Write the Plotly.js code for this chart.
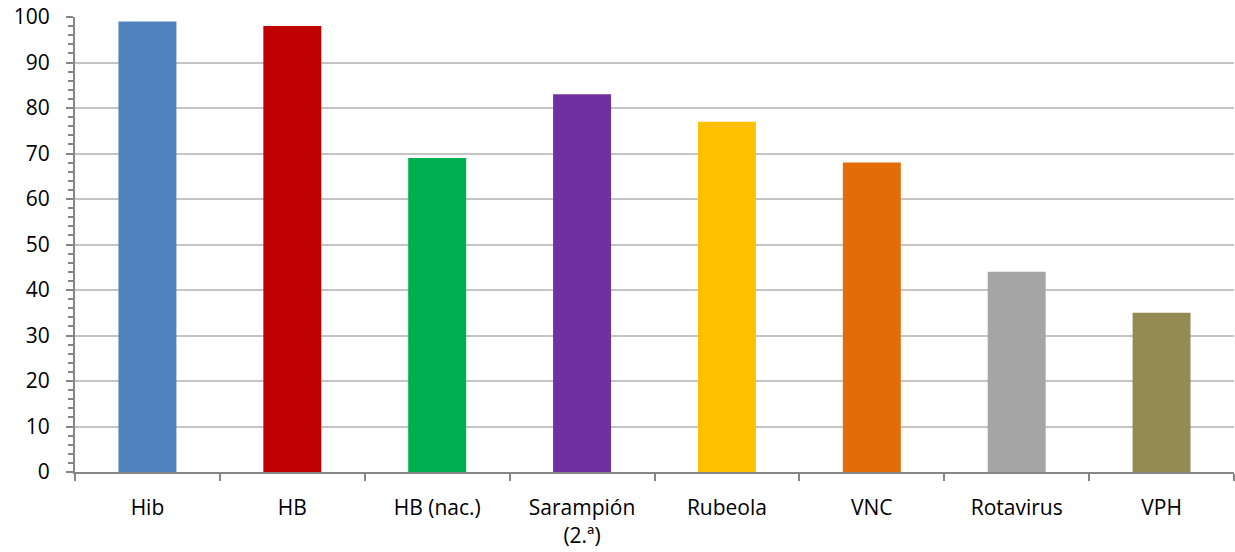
<!DOCTYPE html>
<html>
<head>
<meta charset="utf-8">
<script src="https://cdn.plot.ly/plotly-3.0.1.min.js"></script>
<style>html,body{margin:0;padding:0;background:#fff;}#chart{width:1235px;height:552px;}</style>
</head>
<body>
<div id="chart"></div>
<script>
const categories = ["Hib", "HB", "HB (nac.)", "Sarampión<br>(2.ª)", "Rubeola", "VNC", "Rotavirus", "VPH"];
const values = [99, 98, 69, 83, 77, 68, 44, 35];
const colors = ["#4f81bd", "#c00000", "#00b050", "#7030a0", "#ffc000", "#e36c09", "#a5a5a5", "#948a54"];
const yTicks = [0, 10, 20, 30, 40, 50, 60, 70, 80, 90, 100];

Plotly.newPlot("chart", [{
  type: "bar",
  x: categories,
  y: values,
  marker: {color: colors},
  hoverinfo: "x+y"
}], {
  width: 1235, height: 552,
  margin: {l: 75, r: 1, t: 17, b: 80},
  paper_bgcolor: "#fff", plot_bgcolor: "#fff",
  bargap: 0.6,
  showlegend: false,
  font: {family: "Open Sans, Liberation Sans, sans-serif", size: 21, color: "#000"},
  xaxis: {
    type: "category",
    showline: true, linecolor: "#868686", linewidth: 2,
    ticks: "outside", tickson: "boundaries", ticklen: 7, tickcolor: "#868686", tickwidth: 2,
    showgrid: false, zeroline: false,
    ticklabelstandoff: 16,
    tickfont: {size: 21}
  },
  yaxis: {
    range: [0, 100],
    tickvals: yTicks,
    ticktext: yTicks.map(String),
    showline: true, linecolor: "#868686", linewidth: 2,
    ticks: "outside", ticklen: 7, tickcolor: "#868686", tickwidth: 2,
    gridcolor: "#c4c4c4", gridwidth: 2,
    zeroline: false,
    ticklabelstandoff: 12,
    minor: {dtick: 2, ticks: "outside", ticklen: 5, tickcolor: "#868686", tickwidth: 2, showgrid: false},
    tickfont: {size: 21}
  }
}, {displayModeBar: false});
</script>
</body>
</html>
